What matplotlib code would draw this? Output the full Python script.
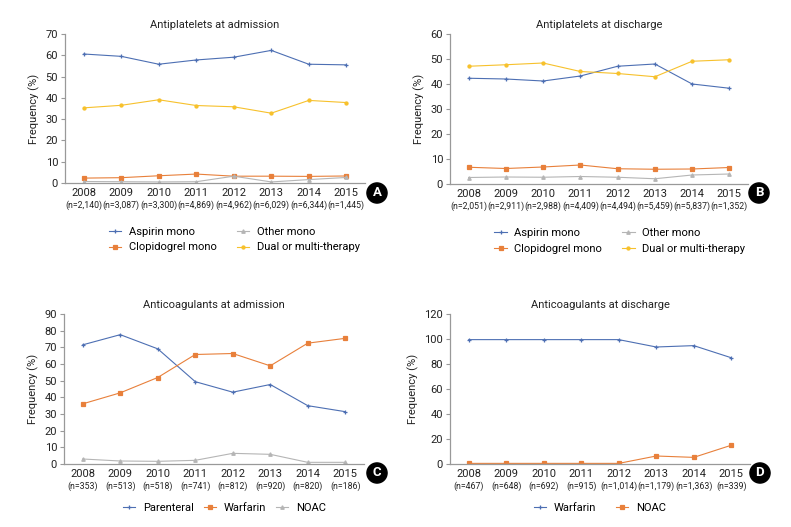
import matplotlib
matplotlib.use("Agg")
import matplotlib.pyplot as plt
from matplotlib import font_manager

_names = {f.name for f in font_manager.fontManager.ttflist}
MAIN = 'Roboto' if 'Roboto' in _names else 'DejaVu Sans'
NARROW = 'Liberation Sans Narrow' if 'Liberation Sans Narrow' in _names else MAIN
plt.rcParams['font.family'] = [MAIN, 'DejaVu Sans']

years = ["2008", "2009", "2010", "2011", "2012", "2013", "2014", "2015"]

n_a = ["2,140", "3,087", "3,300", "4,869", "4,962", "6,029", "6,344", "1,445"]
aspirin_a = [60.6, 59.5, 55.8, 57.8, 59.1, 62.3, 55.8, 55.5]
clopi_a = [2.3, 2.5, 3.4, 4.2, 3.2, 3.2, 3.1, 3.3]
other_a = [0.7, 0.6, 0.5, 0.6, 3.2, 0.5, 1.6, 2.6]
dual_a = [35.3, 36.5, 39.1, 36.4, 35.8, 32.8, 38.8, 37.8]

n_b = ["2,051", "2,911", "2,988", "4,409", "4,494", "5,459", "5,837", "1,352"]
aspirin_b = [42.3, 42.0, 41.2, 43.2, 47.1, 48.0, 40.0, 38.3]
clopi_b = [6.7, 6.2, 6.8, 7.6, 6.1, 5.9, 6.0, 6.6]
other_b = [2.6, 2.8, 2.7, 3.0, 2.7, 2.1, 3.6, 4.0]
dual_b = [47.1, 47.7, 48.4, 45.0, 44.2, 42.9, 49.1, 49.7]

n_c = ["353", "513", "518", "741", "812", "920", "820", "186"]
parenteral_c = [71.5, 77.6, 69.1, 49.4, 43.1, 47.7, 35.0, 31.4]
warfarin_c = [36.1, 42.7, 51.9, 65.7, 66.3, 58.9, 72.5, 75.4]
noac_c = [3.0, 1.8, 1.6, 2.2, 6.4, 5.8, 1.0, 1.0]

n_d = ["467", "648", "692", "915", "1,014", "1,179", "1,363", "339"]
warfarin_d = [99.5, 99.5, 99.5, 99.5, 99.5, 93.6, 94.7, 85.0]
noac_d = [0.5, 0.5, 0.5, 0.5, 0.5, 6.4, 5.3, 15.0]

BLUE = "#4d6fb3"
ORANGE = "#e8803b"
GRAY = "#b5b5b5"
YELLOW = "#f7c12c"
SPINE = "#999999"
TXT = "#222222"

W, H = 791, 527
fig = plt.figure(figsize=(W / 100, H / 100), dpi=100)


def px_axes(left, top, right, bottom):
    return fig.add_axes([left / W, 1 - bottom / H, (right - left) / W, (bottom - top) / H])


def style(ax, title, ymax, ystep, nlabels):
    ax.set_xlim(-0.5, 7.5)
    ax.set_ylim(0, ymax)
    ax.set_yticks(range(0, ymax + 1, ystep))
    ax.tick_params(axis='y', labelsize=8, length=3, width=0.8, color=SPINE, pad=2, labelcolor=TXT)
    ax.tick_params(axis='x', length=0, pad=3)
    ax.set_xticks(range(8))
    ax.set_xticklabels([""] * 8)
    for i, (y, n) in enumerate(zip(years, nlabels)):
        ax.annotate(y, xy=(i, 0), xycoords=('data', 'axes fraction'), xytext=(0, -10),
                    textcoords='offset pixels', ha='center', va='center', fontsize=8, color=TXT)
        ax.annotate(f"(n={n})", xy=(i, 0), xycoords=('data', 'axes fraction'), xytext=(0, -22),
                    textcoords='offset pixels', ha='center', va='center', fontsize=6.3, color=TXT,
                    family=[NARROW, 'DejaVu Sans'])
    for s in ['top', 'right']:
        ax.spines[s].set_visible(False)
    for s in ['left', 'bottom']:
        ax.spines[s].set_color(SPINE)
        ax.spines[s].set_linewidth(0.9)
    ax.set_title(title, fontsize=8, color=TXT, pad=4.5)
    ax.set_ylabel("Frequency (%)", fontsize=8, color=TXT, labelpad=4)


def line(ax, vals, color, marker, ms, label):
    ax.plot(range(8), vals, color=color, lw=0.8, marker=marker, ms=ms,
            mec=color, mfc=color, mew=0.9, label=label)


def badge(x, y, letter):
    fig.text(x / W, 1 - y / H, letter, ha='center', va='center', fontsize=9.5, fontweight='bold',
             color='white', bbox=dict(boxstyle='circle,pad=0.27', fc='black', ec='black'))


LEG = dict(frameon=False, fontsize=8, handlelength=1.1, handletextpad=0.7)

# Panel A
axA = px_axes(65, 34, 365, 183)
line(axA, aspirin_a, BLUE, '+', 3.5, "Aspirin mono")
line(axA, clopi_a, ORANGE, 's', 3, "Clopidogrel mono")
line(axA, other_a, GRAY, '^', 2.5, "Other mono")
line(axA, dual_a, YELLOW, 'o', 2.2, "Dual or multi-therapy")
style(axA, "Antiplatelets at admission", 70, 10, n_a)
axA.legend(loc='center', bbox_to_anchor=(0.565, -0.38), ncol=2, columnspacing=1.8,
           labelspacing=0.5, **LEG)
badge(377, 193, "A")

# Panel B
axB = px_axes(450, 34, 748, 184)
line(axB, aspirin_b, BLUE, '+', 3.5, "Aspirin mono")
line(axB, clopi_b, ORANGE, 's', 3, "Clopidogrel mono")
line(axB, other_b, GRAY, '^', 2.5, "Other mono")
line(axB, dual_b, YELLOW, 'o', 2.2, "Dual or multi-therapy")
style(axB, "Antiplatelets at discharge", 60, 10, n_b)
axB.legend(loc='center', bbox_to_anchor=(0.57, -0.38), ncol=2, columnspacing=1.8,
           labelspacing=0.5, **LEG)
badge(759, 193, "B")

# Panel C
axC = px_axes(64, 314, 364, 464)
line(axC, parenteral_c, BLUE, '+', 3.5, "Parenteral")
line(axC, warfarin_c, ORANGE, 's', 3, "Warfarin")
line(axC, noac_c, GRAY, '^', 2.5, "NOAC")
style(axC, "Anticoagulants at admission", 90, 10, n_c)
axC.legend(loc='center', bbox_to_anchor=(0.535, -0.295), ncol=3, columnspacing=0.9, **LEG)
badge(377, 473, "C")

# Panel D
axD = px_axes(450, 314, 750, 464)
line(axD, warfarin_d, BLUE, '+', 3.5, "Warfarin")
line(axD, noac_d, ORANGE, 's', 3, "NOAC")
style(axD, "Anticoagulants at discharge", 120, 20, n_d)
axD.legend(loc='center', bbox_to_anchor=(0.5, -0.295), ncol=2, columnspacing=1.8, **LEG)
badge(760, 473, "D")

fig.savefig("out.png", dpi=100, facecolor='white')
